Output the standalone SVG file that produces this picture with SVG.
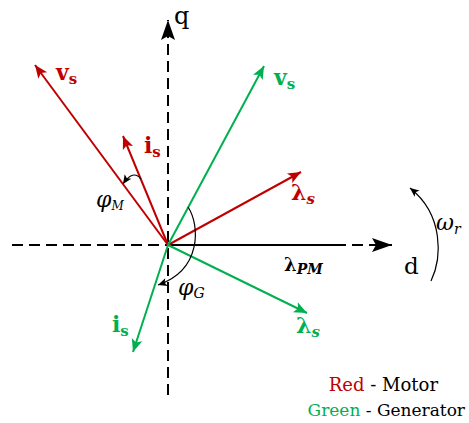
<svg xmlns="http://www.w3.org/2000/svg" width="469" height="423" viewBox="0 0 469 423">
<style>
.axis{stroke:#000;stroke-width:2;fill:none;stroke-dasharray:11 6}
.red{stroke:#C00000;stroke-width:2;fill:none}
.grn{stroke:#00B050;stroke-width:2;fill:none}
.thin{stroke:#000;stroke-width:1.2;fill:none}
.it{font-style:italic}
.rt{fill:#C00000}
.gt{fill:#00B050}
.kt{fill:#000}
</style>
<defs>
<marker id="ak" markerUnits="userSpaceOnUse" orient="auto" markerWidth="24" markerHeight="16" refX="0" refY="0" viewBox="-21 -8 24 16" overflow="visible"><path d="M0,0 L-20,-7 L-16,0 L-20,7 Z" fill="#000"/></marker>
<marker id="ar" markerUnits="userSpaceOnUse" orient="auto" markerWidth="16" markerHeight="12" refX="0" refY="0" viewBox="-14 -6 16 12" overflow="visible"><path d="M0,0 L-13,-5.5 L-10,0 L-13,5.5 Z" fill="#C00000"/></marker>
<marker id="ag" markerUnits="userSpaceOnUse" orient="auto" markerWidth="16" markerHeight="12" refX="0" refY="0" viewBox="-14 -6 16 12" overflow="visible"><path d="M0,0 L-13,-5.5 L-10,0 L-13,5.5 Z" fill="#00B050"/></marker>
<marker id="as" markerUnits="userSpaceOnUse" orient="auto" markerWidth="12" markerHeight="10" refX="0" refY="0" viewBox="-10 -5 12 10" overflow="visible"><path d="M0,0 L-9,-4 L-7,0 L-9,4 Z" fill="#000"/></marker>
</defs>

<g id="connectors">
<line class="axis" x1="168" y1="395" x2="168" y2="20" marker-end="url(#ak)"/>
<line class="axis" x1="12" y1="245" x2="392" y2="245" marker-end="url(#ak)"/>
<line x1="168" y1="245" x2="335" y2="245" stroke="#000" stroke-width="2"/>
<line class="red" x1="168" y1="245" x2="35" y2="65" marker-end="url(#ar)"/>
<line class="red" x1="168" y1="245" x2="123" y2="136" marker-end="url(#ar)"/>
<line class="red" x1="168" y1="245" x2="301" y2="172" marker-end="url(#ar)"/>
<line class="grn" x1="168" y1="245" x2="264" y2="66" marker-end="url(#ag)"/>
<line class="grn" x1="168" y1="245" x2="133" y2="352" marker-end="url(#ag)"/>
<line class="grn" x1="168" y1="245" x2="307" y2="313" marker-end="url(#ag)"/>
<path class="thin" d="M141,179 Q133,169 123,184" marker-end="url(#as)"/>
<path class="thin" d="M188,207 C200,225 202,270 158,285" marker-end="url(#as)"/>
<path class="thin" d="M431,281 C442,258 444,215 410,188" marker-end="url(#as)"/>
</g>

<g font-family="DejaVu Serif, serif">
<g id="q-axis"><text x="174" y="24" font-size="24" class="kt">q</text></g>
<g id="d-axis"><text x="404" y="274" font-size="23" class="kt">d</text></g>
<g id="omega"><text x="436" y="230" font-size="22" class="it kt">ω<tspan font-size="14" dy="4">r</tspan></text></g>

<g id="vs-motor"><text x="56" y="80" class="rt" font-weight="bold" font-size="22">v<tspan font-size="15" dy="4">s</tspan></text></g>
<g id="is-motor"><text x="144" y="153" class="rt" font-weight="bold" font-size="22">i<tspan font-size="15" dy="4">s</tspan></text></g>
<g id="ls-motor"><text x="291" y="200" class="rt" font-weight="bold" font-size="22">λ<tspan class="it" font-size="15" dy="4">s</tspan></text></g>

<g id="vs-gen"><text x="274" y="85" class="gt" font-weight="bold" font-size="22">v<tspan font-size="15" dy="4">s</tspan></text></g>
<g id="is-gen"><text x="112" y="332" class="gt" font-weight="bold" font-size="22">i<tspan font-size="15" dy="4">s</tspan></text></g>
<g id="ls-gen"><text x="296" y="333" class="gt" font-weight="bold" font-size="22">λ<tspan class="it" font-size="15" dy="4">s</tspan></text></g>

<g id="lambda-pm"><text x="284" y="271" class="kt" font-weight="bold" font-size="18">λ<tspan class="it" font-size="14" dy="3">PM</tspan></text></g>
<g id="phi-m"><text x="96" y="207" class="it kt" font-size="22">φ<tspan font-size="12" dy="3">M</tspan></text></g>
<g id="phi-g"><text x="178" y="295" class="it kt" font-size="22">φ<tspan font-size="14" dy="3">G</tspan></text></g>

<g id="legend">
<text x="438" y="391" font-size="18" text-anchor="end"><tspan class="rt">Red</tspan><tspan class="kt"> - Motor</tspan></text>
<text x="465" y="416" font-size="17" text-anchor="end"><tspan class="gt">Green</tspan><tspan class="kt"> - Generator</tspan></text>
</g>
</g>
</svg>
